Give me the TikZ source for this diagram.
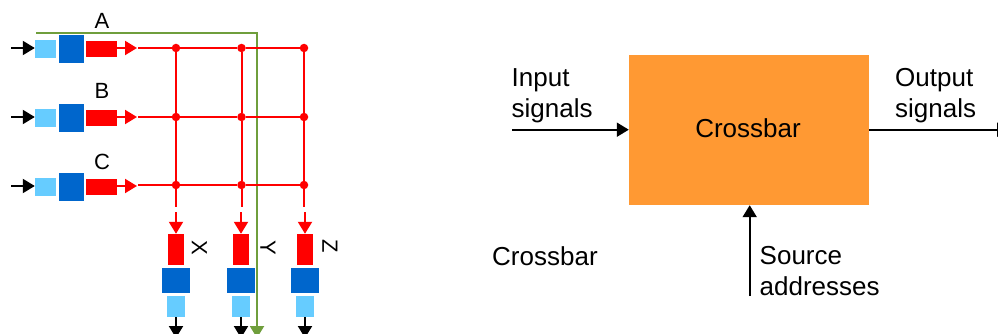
\documentclass[tikz,border=0pt]{standalone}
\usepackage{fontspec}
\usepackage{xcolor}
\usepackage{tikz}
\usetikzlibrary{arrows.meta}
\setmainfont{Liberation Sans}
\definecolor{lblue}{HTML}{66CCFF}
\definecolor{dblue}{HTML}{0066CC}
\definecolor{sigred}{HTML}{FF0000}
\definecolor{boxorange}{HTML}{FF9933}
\definecolor{pathgreen}{HTML}{6F9E3C}
\tikzset{
  line/.style={draw=black, line width=2pt, -{Triangle[length=12pt, width=14pt]}},
  rline/.style={draw=sigred, line width=2pt},
  rarrow/.style={rline, -{Triangle[length=12pt, width=14pt]}},
  gline/.style={draw=pathgreen, line width=2.2pt},
  dot/.style={circle, fill=sigred, inner sep=0pt, minimum size=8.5pt},
  inbox/.style={fill=lblue, inner sep=0pt, minimum width=21pt, minimum height=18pt},
  bufbox/.style={fill=dblue, inner sep=0pt, minimum width=25pt, minimum height=28pt},
  regbox/.style={fill=sigred, inner sep=0pt, minimum width=31pt, minimum height=16pt},
  outbox/.style={fill=lblue, inner sep=0pt, minimum width=18pt, minimum height=21pt},
  obufbox/.style={fill=dblue, inner sep=0pt, minimum width=28pt, minimum height=25pt},
  oregbox/.style={fill=sigred, inner sep=0pt, minimum width=16pt, minimum height=31pt},
  lbl/.style={font=\fontsize{22}{26}\selectfont, inner sep=0pt},
  blbl/.style={font=\fontsize{26}{31}\selectfont, inner sep=0pt, align=left, anchor=west}
}
\begin{document}
\begin{tikzpicture}[x=1pt, y=-1pt]
  \useasboundingbox (0,0) rectangle (998,334);

  % left: the switch
  \coordinate (gstart) at (36,33);
  \coordinate (gcorner) at (257,33);
  \coordinate (gend) at (257,338);
  \draw[gline, -{Triangle[length=12pt, width=14pt]}] (gstart)--(gcorner)--(gend);

  \node[inbox] (inA) at (45.5,49) {};
  \node[inbox] (inB) at (45.5,118) {};
  \node[inbox] (inC) at (45.5,187) {};
  \node[bufbox] (bufA) at (71.5,49) {};
  \node[bufbox] (bufB) at (71.5,118) {};
  \node[bufbox] (bufC) at (71.5,187) {};
  \node[regbox] (regA) at (101.5,49) {};
  \node[regbox] (regB) at (101.5,118) {};
  \node[regbox] (regC) at (101.5,187) {};

  \coordinate (srcA) at (11,48);
  \coordinate (srcB) at (11,117);
  \coordinate (srcC) at (11,186);
  \draw[line] (srcA)--(inA.west |- srcA);
  \draw[line] (srcB)--(inB.west |- srcB);
  \draw[line] (srcC)--(inC.west |- srcC);

  \coordinate (tipA) at (137,48);
  \coordinate (tipB) at (137,117);
  \coordinate (tipC) at (137,186);
  \draw[rarrow] (regA.east |- tipA)--(tipA);
  \draw[rarrow] (regB.east |- tipB)--(tipB);
  \draw[rarrow] (regC.east |- tipC)--(tipC);

  \node[dot] (ax) at (176,48) {};
  \node[dot] (ay) at (241.5,48) {};
  \node[dot] (az) at (304,48) {};
  \node[dot] (bx) at (176,117) {};
  \node[dot] (by) at (241.5,117) {};
  \node[dot] (bz) at (304,117) {};
  \node[dot] (cx) at (176,185) {};
  \node[dot] (cy) at (241.5,185) {};
  \node[dot] (cz) at (304,185) {};

  \coordinate (startA) at (138,48);
  \coordinate (startB) at (138,117);
  \coordinate (startC) at (138,185);
  \draw[rline] (startA)--(ax)--(ay)--(az);
  \draw[rline] (startB)--(bx)--(by)--(bz);
  \draw[rline] (startC)--(cx)--(cy)--(cz);

  \coordinate (endX) at (176,207);
  \coordinate (endY) at (241.5,207);
  \coordinate (endZ) at (304,207);
  \draw[rline] (ax)--(bx)--(cx)--(endX);
  \draw[rline] (ay)--(by)--(cy)--(endY);
  \draw[rline] (az)--(bz)--(cz)--(endZ);

  \node[oregbox] (regX) at (176,249.5) {};
  \node[oregbox] (regY) at (241,249.5) {};
  \node[oregbox] (regZ) at (305,249.5) {};
  \node[obufbox] (bufX) at (176,280.5) {};
  \node[obufbox] (bufY) at (241,280.5) {};
  \node[obufbox] (bufZ) at (305,280.5) {};
  \node[outbox] (outX) at (176,306.5) {};
  \node[outbox] (outY) at (241,306.5) {};
  \node[outbox] (outZ) at (305,306.5) {};

  \coordinate (contX) at (176,212);
  \coordinate (contY) at (241,212);
  \coordinate (contZ) at (305,212);
  \draw[rarrow] (contX)--(regX);
  \draw[rarrow] (contY)--(regY);
  \draw[rarrow] (contZ)--(regZ);

  \coordinate (dstX) at (176,338);
  \coordinate (dstY) at (241,338);
  \coordinate (dstZ) at (305,338);
  \draw[line] (outX)--(dstX);
  \draw[line] (outY)--(dstY);
  \draw[line] (outZ)--(dstZ);

  \node[lbl] (lblA) at (102,21) {A};
  \node[lbl] (lblB) at (102,91) {B};
  \node[lbl] (lblC) at (102,162) {C};
  \node[lbl, rotate=-90] (lblX) at (199.5,248) {X};
  \node[lbl, rotate=-90] (lblY) at (268,248) {Y};
  \node[lbl, rotate=-90] (lblZ) at (330,246) {Z};

  % right: the block
  \node[fill=boxorange, inner sep=0pt, minimum width=240pt, minimum height=150pt,
        font=\fontsize{26}{31}\selectfont] (xbar) at (749,130) {\hspace{-2pt}\raisebox{3pt}{Crossbar}};

  \coordinate (insrc) at (512,129.7);
  \coordinate (outdst) at (1009,129.7);
  \coordinate (addr) at (749.7,296);
  \draw[line] (insrc)--(xbar.west |- insrc);
  \draw[line] (xbar.east |- outdst)--(outdst);
  \draw[line] (addr)--(xbar.south -| addr);

  \node[blbl] (lblIn) at (511.5,96) {Input\\signals};
  \node[blbl] (lblOut) at (895,96) {Output\\signals};
  \node[blbl] (lblSrc) at (759.5,271.5) {Source\\addresses};
  \node[blbl] (lblBar) at (492,256) {Crossbar};
\end{tikzpicture}
\end{document}
